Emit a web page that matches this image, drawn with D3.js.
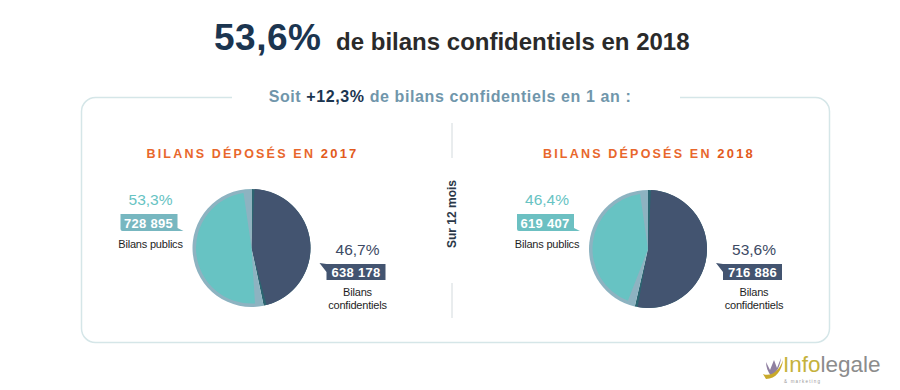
<!DOCTYPE html>
<html><head><meta charset="utf-8">
<script src="https://cdn.jsdelivr.net/npm/d3@7"></script>
<style>
html,body{margin:0;padding:0;background:#fff;}
svg{display:block;font-family:"Liberation Sans",Arial,sans-serif;}
</style></head>
<body>
<svg id="c" width="900" height="390"></svg>
<script>
// ---- data ----
const years = ["2017", "2018"];
const categories = ["Bilans confidentiels", "Bilans publics"];
const confPct = [46.7, 53.6];
const publicPct = [53.3, 46.4];
const confCount = ["638 178", "716 886"];
const publicCount = ["728 895", "619 407"];
const headline = "53,6%";
const headlineRest = "de bilans confidentiels en 2018";
const growth = "+12,3%";
const periodLabel = "Sur 12 mois";

const fmt = v => d3.format(".1f")(v).replace(".", ",") + "%";

const svg = d3.select("#c");
const C = {dark:"#435470", teal:"#67c3c3", gray:"#8db3c1", darkTeal:"#2c6571",
           orange:"#e8672c", navy:"#1b3550", sub:"#7096ab", text:"#2a2a2a"};

// title
const t = svg.append("text").attr("x", 214).attr("y", 50);
t.append("tspan").text(headline).attr("font-size", 37).attr("font-weight", 700)
  .attr("fill", C.navy).attr("letter-spacing", 0.5);
t.append("tspan").text(" " + headlineRest).attr("dx", 8).attr("font-size", 24)
  .attr("font-weight", 700).attr("fill", C.text);

// frame
svg.append("rect").attr("x", 81.5).attr("y", 97.5).attr("width", 748).attr("height", 245)
  .attr("rx", 14).attr("fill", "#fff").attr("stroke", "#d5e6e8").attr("stroke-width", 1.5);
svg.append("rect").attr("x", 232).attr("y", 92).attr("width", 448).attr("height", 12).attr("fill", "#fff");

// subtitle
const s = svg.append("text").attr("x", 450).attr("y", 102).attr("text-anchor", "middle")
  .attr("font-size", 16).attr("font-weight", 700).attr("letter-spacing", 0.6).attr("fill", C.sub);
s.append("tspan").text("Soit ");
s.append("tspan").text(growth).attr("fill", C.navy);
s.append("tspan").text(" de bilans confidentiels en 1 an :");

// divider
svg.append("line").attr("x1", 452).attr("x2", 452).attr("y1", 123).attr("y2", 158)
  .attr("stroke", "#d3dadd").attr("stroke-width", 1);
svg.append("line").attr("x1", 452).attr("x2", 452).attr("y1", 283).attr("y2", 318)
  .attr("stroke", "#d3dadd").attr("stroke-width", 1);
svg.append("text").attr("transform", "translate(456,214) rotate(-90)")
  .attr("text-anchor", "middle").attr("font-size", 12).attr("font-weight", 700)
  .attr("fill", "#2b3848").text(periodLabel);

// pies
const centers = [[251.5, 248], [648, 249]];
const R = 59;
const pie = d3.pie().sort(null).value(d => d);
const arc = d3.arc().innerRadius(0).outerRadius(R);

years.forEach((yr, i) => {
  const [cx, cy] = centers[i];
  const g = svg.append("g").attr("transform", `translate(${cx},${cy})`);
  const arcs = pie([confPct[i], publicPct[i]]);
  const a0 = arcs[0], a1 = arcs[1];
  // confidentiels: dark-teal edges, dark body
  g.append("path").attr("d", arc(a0)).attr("fill", C.darkTeal);
  g.append("path").attr("d", d3.arc().innerRadius(0).outerRadius(R).padRadius(R).padAngle(6 / R)(a0))
    .attr("fill", C.dark);
  // publics: gray rim & strips, teal body
  g.append("path").attr("d", arc(a1)).attr("fill", C.gray);
  g.append("path").attr("d", d3.arc().innerRadius(0).outerRadius(R - 3.5).padRadius(R).padAngle(16 / R)(a1))
    .attr("fill", C.teal);

  // header
  const h = svg.append("text").attr("x", cx + 1).attr("y", 158).attr("text-anchor", "middle")
    .attr("font-size", 12.5).attr("font-weight", 700).attr("letter-spacing", 2.2).attr("fill", C.orange);
  h.append("tspan").text("BILANS DÉPOSÉS EN ");
  h.append("tspan").text(yr).attr("fill", "#e25a1c").attr("font-size", 13);

  // publics label (left)
  const lx = cx - 101, rx = cx + 106;
  svg.append("text").attr("x", lx).attr("y", 205).attr("text-anchor", "middle")
    .attr("font-size", 15.5).attr("fill", C.teal).text(fmt(publicPct[i]));
  svg.append("path").attr("d", `M${lx - 30},214 H${lx + 27} L${lx + 27},228 L${lx + 33},231 H${lx - 28} Q${lx - 30},231 ${lx - 30},229 Z`)
    .attr("fill", i === 0 ? "#77b7c0" : "#6cc0c2");
  svg.append("text").attr("x", lx - 2).attr("y", 227.5).attr("text-anchor", "middle")
    .attr("font-size", 13).attr("font-weight", 700).attr("fill", "#fff").attr("letter-spacing", 0.3)
    .text(publicCount[i]);
  svg.append("text").attr("x", lx).attr("y", 248).attr("text-anchor", "middle")
    .attr("font-size", 11).attr("letter-spacing", -0.2).attr("fill", "#1e1e1e").text(categories[1]);

  // confidentiels label (right)
  svg.append("text").attr("x", rx).attr("y", 255).attr("text-anchor", "middle")
    .attr("font-size", 15.5).attr("fill", "#3c4a64").text(fmt(confPct[i]));
  svg.append("path").attr("d", `M${rx - 31},264 L${rx - 38},263 L${rx - 31},272 V280 H${rx + 28} V264 Z`)
    .attr("fill", C.dark);
  svg.append("text").attr("x", rx - 1.5).attr("y", 277).attr("text-anchor", "middle")
    .attr("font-size", 13).attr("font-weight", 700).attr("fill", "#fff").attr("letter-spacing", 0.3)
    .text(confCount[i]);
  svg.append("text").attr("x", rx).attr("y", 296).attr("text-anchor", "middle")
    .attr("font-size", 11).attr("letter-spacing", -0.2).attr("fill", "#1e1e1e").text("Bilans");
  svg.append("text").attr("x", rx).attr("y", 309).attr("text-anchor", "middle")
    .attr("font-size", 11).attr("letter-spacing", -0.2).attr("fill", "#1e1e1e").text("confidentiels");
});

// logo
const lg = svg.append("g");
lg.append("path").attr("d", "M766,362 L770,370 L774,360 L777,368 L781,358 C780,366 777,373 771,376 C768,372 766,367 766,362 Z")
  .attr("fill", "#8f7fa0");
lg.append("path").attr("d", "M763,374 C770,377 779,372 783,360 C782,370 776,379 766,379 Z").attr("fill", "#c9a92a");
const lt = lg.append("text").attr("x", 783).attr("y", 372).attr("font-size", 22.5);
lt.append("tspan").text("Info").attr("fill", "#c5b23c");
lt.append("tspan").text("legale").attr("fill", "#8c8c8c");
lg.append("text").attr("x", 784).attr("y", 383).attr("font-size", 4.5).attr("letter-spacing", 1.2)
  .attr("fill", "#9a9a9a").text("& marketing");
</script>
</body></html>
